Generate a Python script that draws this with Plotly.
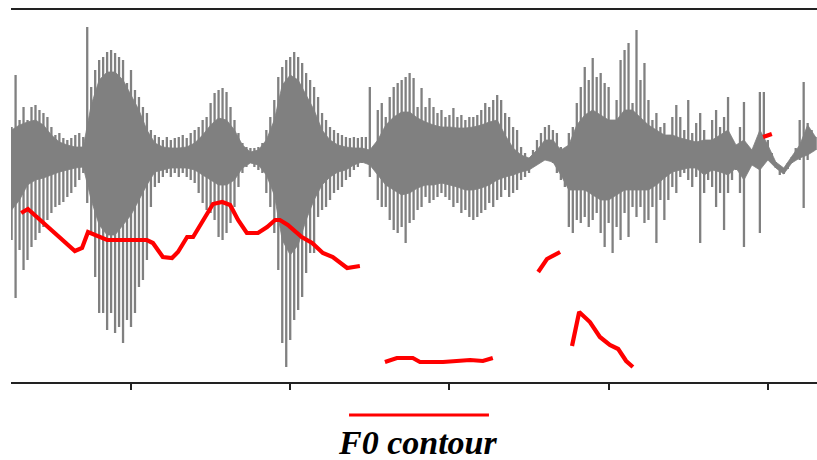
import plotly.graph_objects as go

# Waveform: per analysis frame, the positive and negative peak of the signal (scaled amplitude units)
wave_top = [30, 82, 37, 50, 37, 50, 52, 47, 44, 40,
            30, 22, 24, 19, 17, 19, 22, 24, 20, 130,
            70, 87, 97, 100, 105, 107, 104, 100, 97, 74,
            87, 67, 60, 50, 44, 27, 22, 20, 17, 20,
            17, 19, 20, 22, 19, 24, 27, 30, 37, 40,
            54, 64, 67, 69, 65, 50, 37, 24, 14, 10,
            9, 9, 10, 14, 27, 40, 57, 80, 90, 97,
            100, 105, 100, 94, 84, 77, 70, 60, 44, 37,
            30, 27, 24, 22, 20, 19, 20, 19, 20, 20,
            70, 4, 47, 54, 40, 60, 70, 74, 77, 80,
            84, 79, 50, 69, 50, 59, 50, 44, 47, 40,
            42, 49, 40, 42, 37, 40, 40, 42, 47, 54,
            50, 57, 62, 57, 44, 40, 30, 27, 10, 4,
            -3, 7, 17, 24, 30, 32, 27, 24, 10, 4,
            24, 30, 54, 70, 90, 77, 99, 80, 84, 74,
            70, 20, 57, 97, 107, 114, 54, 127, 77, 94,
            57, 37, 44, 30, 34, 20, 40, 52, 40, 27,
            57, 24, 34, 44, 27, 14, 37, 47, 30, 40,
            60, 17, 7, 30, 55, 7, 4, 4, 65, 65,
            17, 4, -5, -11, -11, -6, 0, 9, 37, 75,
            34, 27, 20]
wave_bot = [-83, -141, -93, -113, -103, -90, -83, -76, -70, -63,
            -56, -50, -48, -45, -40, -36, -30, -23, -16, -46,
            -76, -120, -156, -156, -173, -156, -176, -170, -186, -163,
            -170, -156, -130, -123, -103, -50, -30, -26, -20, -16,
            -20, -16, -20, -16, -20, -23, -26, -36, -46, -53,
            -56, -63, -80, -83, -76, -66, -50, -30, -16, -10,
            -6, -10, -13, -16, -36, -50, -76, -113, -186, -210,
            -183, -163, -153, -140, -116, -96, -96, -60, -53, -50,
            -43, -36, -33, -30, -23, -20, -13, -10, -6, -3,
            -20, -10, -43, -50, -50, -63, -73, -76, -70, -86,
            -66, -63, -53, -50, -40, -46, -43, -40, -36, -40,
            -43, -50, -46, -56, -53, -60, -63, -60, -56, -53,
            -46, -50, -43, -40, -33, -40, -36, -33, -23, -20,
            -16, -10, -6, 0, 4, 0, -6, -16, -23, -30,
            -70, -76, -63, -66, -60, -70, -63, -56, -76, -90,
            -66, -96, -70, -83, -56, -80, -50, -60, -50, -66,
            -63, -50, -86, -43, -63, -43, -30, -36, -20, -16,
            -23, -30, -20, -86, -36, -23, -30, -50, -36, -73,
            -36, -23, -13, -36, -90, -10, -6, -3, -76, -6,
            -3, -5, -11, -18, -17, -12, -6, 4, -3, -51,
            -3, 7, 7]

# Dense core of the waveform, every second frame
core_top = [27, 32, 35, 37, 32, 22, 15, 12, 10, 10,
            52, 77, 85, 85, 77, 62, 47, 27, 14, 10,
            9, 9, 10, 14, 22, 32, 39, 37, 27, 12,
            5, 7, 17, 37, 72, 82, 77, 62, 47, 27,
            17, 12, 10, 9, 9, 7, 17, 32, 40, 45,
            45, 39, 35, 32, 30, 30, 29, 29, 30, 32,
            35, 37, 22, 9, 2, -1, 7, 17, 17, 7,
            12, 32, 42, 47, 42, 37, 37, 47, 47, 39,
            32, 27, 22, 22, 19, 17, 15, 17, 17, 22,
            27, 12, 17, 7, 27, 12, -5, -11, 0, 12,
            32, 20]
core_bot = [-53, -43, -28, -23, -21, -18, -15, -13, -11, -10,
            -43, -68, -78, -78, -68, -58, -43, -28, -15, -13,
            -11, -11, -11, -13, -18, -23, -28, -28, -23, -11,
            -6, -8, -18, -38, -83, -98, -88, -63, -43, -28,
            -20, -15, -13, -8, -5, -8, -18, -28, -33, -38,
            -36, -31, -28, -28, -26, -28, -30, -33, -33, -31,
            -28, -23, -20, -18, -15, -13, -8, -3, -5, -18,
            -33, -33, -33, -38, -43, -43, -38, -33, -33, -33,
            -33, -28, -21, -15, -13, -11, -11, -18, -13, -15,
            -18, -11, -23, -8, -13, -3, -11, -17, -6, -1,
            2, 7]

# F0 contour (voiced segments), frame index and scaled value
f0_frames = [[2.4, 4.1, 15.9, 17.7, 19.2, 24.0, 34.0, 35.5, 38.0, 40.3, 41.8, 44.1, 45.6,
              47.8, 50.6, 52.9, 54.9, 56.9, 59.1, 61.9, 64.2, 66.2, 67.4, 69.4, 72.9,
              75.5, 78.2, 80.7, 84.3, 87.5],
             [93.8, 96.8, 100.8, 102.6, 108.4, 115.2, 118.4, 120.9],
             [132.3, 134.5, 137.8],
             [140.8, 142.6, 145.3, 147.8, 150.3, 152.4, 154.4, 156.1],
             [188.8, 191.0]]
f0_values = [[-56, -52, -94, -91, -75, -83, -83, -86, -100, -101, -95, -80, -80,
              -65, -47, -45, -48, -63, -76, -76, -70, -63, -63, -68, -80,
              -86, -96, -100, -111, -109],
             [-205, -201, -201, -205, -205, -203, -204, -201],
             [-115, -102, -95],
             [-189, -155, -165, -180, -188, -192, -204, -210],
             [20, 23]]

tick_frames = [30, 70, 110, 150, 190]
legend_label = "F0 contour"

GRAY = "rgb(128,128,128)"
RED = "rgb(255,0,0)"

fig = go.Figure()

# core band
core_x = [2 * k for k in range(len(core_top))]
fig.add_trace(go.Scatter(
    x=core_x + core_x[::-1], y=core_top + core_bot[::-1],
    fill="toself", fillcolor=GRAY, mode="lines",
    line=dict(width=0.8, color=GRAY), hoverinfo="skip", showlegend=False))

# individual pulses as vertical strokes
sx, sy = [], []
for i, (t, b) in enumerate(zip(wave_top, wave_bot)):
    sx += [i, i, None]
    sy += [t, b, None]
fig.add_trace(go.Scatter(x=sx, y=sy, mode="lines",
                         line=dict(width=2.3, color=GRAY),
                         hoverinfo="skip", showlegend=False))

# F0 contour
fx, fy = [], []
for xs, ys in zip(f0_frames, f0_values):
    fx += xs + [None]
    fy += ys + [None]
fig.add_trace(go.Scatter(x=fx, y=fy, mode="lines", connectgaps=False,
                         line=dict(width=4.2, color=RED), name=legend_label,
                         showlegend=False))

# custom legend: line above the label
fig.add_shape(type="line", xref="paper", yref="paper",
              x0=0.4194, x1=0.593, y0=-0.0887, y1=-0.0887,
              line=dict(color=RED, width=3))
fig.add_annotation(text="<b><i>" + legend_label + "</i></b>", xref="paper", yref="paper",
                   x=0.505, y=-0.162, xanchor="center", yanchor="middle",
                   showarrow=False,
                   font=dict(family="Liberation Serif", size=34, color="black"))

fig.update_xaxes(range=[-0.15, 202.35], showgrid=False, zeroline=False,
                 showline=True, mirror=True, linecolor="#222", linewidth=2,
                 ticks="outside", tickvals=tick_frames, ticklen=6, tickwidth=1.5,
                 tickcolor="#222", showticklabels=False)
fig.update_yaxes(range=[-225, 147], visible=False, showgrid=False, zeroline=False)

fig.update_layout(width=817, height=460, margin=dict(l=11, r=0, t=10, b=78),
                  paper_bgcolor="white", plot_bgcolor="white", showlegend=False)

fig.write_html("out.html")
